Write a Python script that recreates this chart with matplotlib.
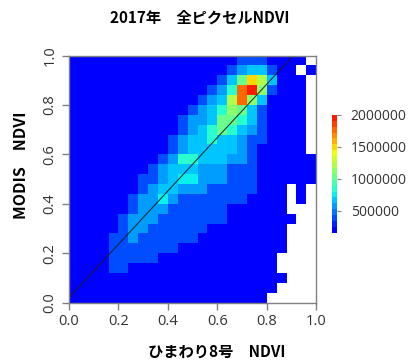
import numpy as np
import matplotlib
matplotlib.use("Agg")
import matplotlib.pyplot as plt
from matplotlib.colors import ListedColormap, Normalize

plt.rcParams["font.family"] = ["Open Sans", "Noto Sans CJK JP", "DejaVu Sans"]
LABEL_FONT = ["Noto Sans CJK JP", "DejaVu Sans"]

# 2D histogram counts (thousands), rows from top (y 0.96-1.00) to bottom (y 0.00-0.04),
# 25 bins of 0.04 along x; 0 = no pixels (drawn white)
B = 60
COUNTS_K = [
    [B]*17 + [360, 360, 360] + [B]*4 + [0],
    [B]*16 + [360, 520, 700, 700, 360, B, B, 0, B],
    [B]*15 + [360, 700, 1000, 1460, 1200, 700, B, B, B, 0],
    [B]*14 + [360, 520, 850, 1740, 1970, 1100, 360, B, B, B, 0],
    [B]*13 + [360, 520, 700, 1200, 1740, 1150, 700, B, B, B, B, 0],
    [B]*12 + [360, 520, 700, 850, 1100, 1000, 700, 360, B, B, B, B, 0],
    [B]*11 + [360, 520, 520, 700, 1000, 1000, 850, 700, 360] + [B]*4 + [0],
    [B]*11 + [360, 520, 700, 850, 1000, 850, 700, 520, 360] + [B]*4 + [0],
    [B]*10 + [360, 520, 700, 700, 850, 700, 700, 520, 360, 360] + [B]*4 + [0],
    [B]*10 + [360, 520, 700, 700, 700, 700, 700, 520, 360] + [B]*5 + [0],
    [B]*9 + [360, 520, 850, 850, 700, 700, 700, 520, 520, 360] + [B]*6,
    [B]*8 + [360, 520, 700, 700, 700, 520, 520, 520, 360, 360, 360] + [B]*6,
    [B]*7 + [360, 360, 520, 700, 760, 760, 520, 520, 520, 360, 360, 360] + [B]*6,
    [B]*7 + [360, 520, 700, 700, 520, 520, 520, 360, 360, 360, 360, 360] + [B, B, B, 0, B, 0],
    [B]*6 + [360, 520, 520, 720, 520] + [360]*7 + [B, B, B, B, 0, B, 0],
    [B]*6 + [360, 520, 520, 520] + [360]*6 + [B]*6 + [0, 0, 0],
    [B]*5 + [360, 520, 520, 520] + [360]*7 + [B]*7 + [0, 0],
    [B]*5 + [360, 520, 520] + [360]*6 + [B]*8 + [0, 0, 0],
    [B]*4 + [360, 360, 520] + [360]*6 + [B]*9 + [0, 0, 0],
    [B]*4 + [360]*7 + [B]*11 + [0, 0, 0],
    [B]*4 + [360]*5 + [B]*12 + [0]*4,
    [B]*4 + [360, 360] + [B]*15 + [0]*4,
    [B]*22 + [0]*3,
    [B]*21 + [0]*4,
    [B]*20 + [0]*5,
]
BIN_EDGES = np.linspace(0, 1, 26)

# fitted line drawn over the histogram
LINE_SLOPE = 1.08
LINE_INTERCEPT = 0.02

CB_MIN, CB_MAX = 150000, 2000000
CB_TICKS = [500000, 1000000, 1500000, 2000000]
CB_LABELS = ["500000", "1000000", "1500000", "2000000"]
AX_TICKS = [0.0, 0.2, 0.4, 0.6, 0.8, 1.0]
AX_LABELS = ["0.0", "0.2", "0.4", "0.6", "0.8", "1.0"]

counts = np.array(COUNTS_K, dtype=float)[::-1] * 1000
counts = np.ma.masked_where(counts == 0, counts)

cmap = ListedColormap(plt.cm.jet(np.linspace(0.12, 0.88, 20)))
cmap.set_bad("white")
norm = Normalize(CB_MIN, CB_MAX)

fig = plt.figure(figsize=(4.16, 3.61), dpi=100)
ax = fig.add_axes([0.166, 0.162, 0.594, 0.684])
mesh = ax.pcolormesh(BIN_EDGES, BIN_EDGES, counts, cmap=cmap, norm=norm,
                     shading="flat", antialiased=False, edgecolors="none")
xl = np.array([0, 1])
ax.plot(xl, LINE_SLOPE * xl + LINE_INTERCEPT, color="#1a1a1a", lw=0.8, alpha=0.85)
ax.set_xlim(0, 1); ax.set_ylim(0, 1)

grey = "#808080"
for s in ax.spines.values():
    s.set_color(grey); s.set_linewidth(1.0)
ax.tick_params(colors=grey, length=5, width=1, labelcolor="#333333", labelsize=10.5)
ax.set_xticks(AX_TICKS); ax.set_xticklabels(AX_LABELS)
ax.set_yticks(AX_TICKS); ax.set_yticklabels(AX_LABELS, rotation=90, va="center")

fig.text(0.48, 0.95, "2017年　全ピクセルNDVI", ha="center", va="center",
         fontsize=11, fontweight="bold", family=LABEL_FONT)
fig.text(0.52, 0.025, "ひまわり8号　NDVI", ha="center", va="center",
         fontsize=11, fontweight="bold", family=LABEL_FONT)
fig.text(0.05, 0.543, "MODIS　NDVI", ha="center", va="center", rotation=90,
         fontsize=11.5, fontweight="bold", family=LABEL_FONT)

cax = fig.add_axes([0.798, 0.355, 0.012, 0.327])
cb = fig.colorbar(mesh, cax=cax, ticks=CB_TICKS)
cb.set_ticklabels(CB_LABELS)
cb.outline.set_visible(False)
cax.tick_params(colors=grey, length=3, width=0.8, labelcolor="#333333", labelsize=10, pad=7)

fig.savefig("out.png", dpi=100)
